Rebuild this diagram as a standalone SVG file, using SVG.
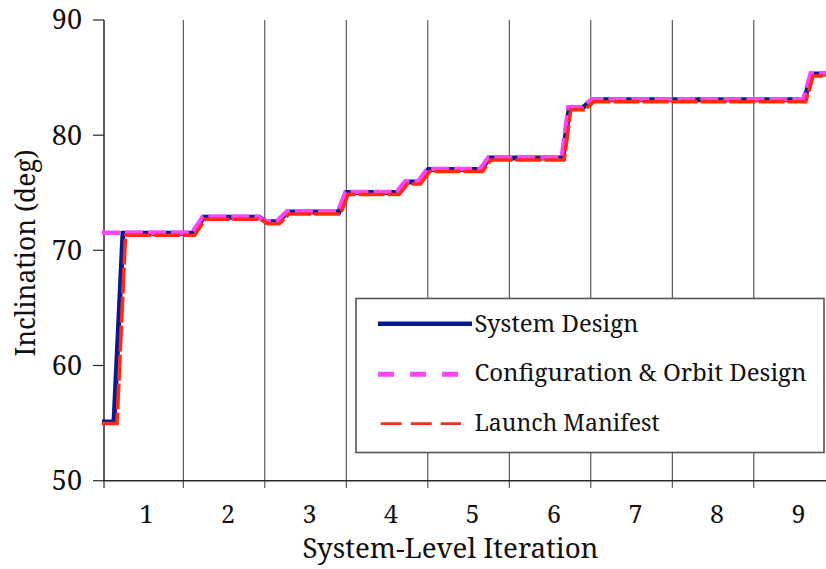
<svg xmlns="http://www.w3.org/2000/svg" width="826" height="569" viewBox="0 0 826 569">
<style>
  .grid{stroke:#3a3a3a;stroke-width:1;fill:none}
  .axis{stroke:#2a2a2a;stroke-width:1.5;fill:none}
  .tick{stroke:#2a2a2a;stroke-width:1.2}
  .sys{stroke:#0a1a8c;stroke-width:5;fill:none;stroke-linejoin:miter}
  .cfg{stroke:#ff44ff;stroke-width:4.5;fill:none;stroke-dasharray:18 5}
  .lm{stroke:#ff2a10;stroke-width:3.6;fill:none;stroke-dasharray:26 3}
</style>
<rect width="826" height="569" fill="#ffffff"/>
<g id="gridlines">
  <line class="grid" x1="183.3" y1="20" x2="183.3" y2="488"/>
  <line class="grid" x1="264.8" y1="20" x2="264.8" y2="488"/>
  <line class="grid" x1="346.3" y1="20" x2="346.3" y2="488"/>
  <line class="grid" x1="427.8" y1="20" x2="427.8" y2="488"/>
  <line class="grid" x1="509.3" y1="20" x2="509.3" y2="488"/>
  <line class="grid" x1="590.8" y1="20" x2="590.8" y2="488"/>
  <line class="grid" x1="672.3" y1="20" x2="672.3" y2="488"/>
  <line class="grid" x1="753.8" y1="20" x2="753.8" y2="488"/>
</g>
<g id="axes">
  <line class="axis" x1="104" y1="20" x2="104" y2="481"/>
  <line class="axis" x1="103" y1="480.7" x2="826" y2="480.7"/>
  <line class="tick" x1="93" y1="20" x2="104" y2="20"/>
  <line class="tick" x1="93" y1="135.2" x2="104" y2="135.2"/>
  <line class="tick" x1="93" y1="250.3" x2="104" y2="250.3"/>
  <line class="tick" x1="93" y1="365.5" x2="104" y2="365.5"/>
  <line class="tick" x1="93" y1="480.7" x2="104" y2="480.7"/>
  <line class="tick" x1="104" y1="480.7" x2="104" y2="488"/>
  <g font-family="Noto Serif, Liberation Serif, serif" font-size="27" fill="#111" text-anchor="end">
    <text x="82" y="29.3" font-family="Noto Serif, Liberation Serif, serif">90</text>
    <text x="82" y="144.5" font-family="Noto Serif, Liberation Serif, serif">80</text>
    <text x="82" y="259.6" font-family="Noto Serif, Liberation Serif, serif">70</text>
    <text x="82" y="374.8" font-family="Noto Serif, Liberation Serif, serif">60</text>
    <text x="82" y="490" font-family="Noto Serif, Liberation Serif, serif">50</text>
  </g>
  <g font-family="Noto Serif, Liberation Serif, serif" font-size="25" fill="#111" text-anchor="middle">
    <text x="146.5" y="522.5" font-family="Noto Serif, Liberation Serif, serif">1</text>
    <text x="228" y="522.5" font-family="Noto Serif, Liberation Serif, serif">2</text>
    <text x="309.5" y="522.5" font-family="Noto Serif, Liberation Serif, serif">3</text>
    <text x="391" y="522.5" font-family="Noto Serif, Liberation Serif, serif">4</text>
    <text x="472.5" y="522.5" font-family="Noto Serif, Liberation Serif, serif">5</text>
    <text x="554" y="522.5" font-family="Noto Serif, Liberation Serif, serif">6</text>
    <text x="635.5" y="522.5" font-family="Noto Serif, Liberation Serif, serif">7</text>
    <text x="717" y="522.5" font-family="Noto Serif, Liberation Serif, serif">8</text>
    <text x="798.5" y="522.5" font-family="Noto Serif, Liberation Serif, serif">9</text>
  </g>
  <text font-family="Noto Serif, Liberation Serif, serif" font-size="27" fill="#111" x="450.5" y="558" text-anchor="middle" textLength="296" lengthAdjust="spacingAndGlyphs">System-Level Iteration</text>
  <text font-family="Noto Serif, Liberation Serif, serif" font-size="28" fill="#111" transform="translate(35,253) rotate(-90)" x="0" y="0" text-anchor="middle" textLength="207" lengthAdjust="spacingAndGlyphs">Inclination (deg)</text>
</g>
<g id="series">
  <polyline id="system-design" class="sys" points="102,422 114,422 123,233.3 193,233.3 203.7,217.2 259.3,217.2 266,221.8 277.7,221.8 287.7,212 339,212 346.5,192.5 397.7,192.5 406,182 419,182 428.3,169.5 481,169.5 489.3,158 562.7,158 569.3,107.8 582.7,107.8 592.7,99.7 804.3,99.7 811.7,74 830,74"/>
  <polyline id="configuration-orbit" class="cfg" points="102,232.8 192,232.8 202.7,216.7 258.3,216.7 265,221.3 276.7,221.3 286.7,211.5 338,211.5 345.5,192 396.7,192 405,181.5 418,181.5 427.3,169 480,169 488.3,157.5 561.7,157.5 568.3,107.3 581.7,107.3 591.7,99.2 803.3,99.2 810.7,73.5 830,73.5"/>
  <polyline id="launch-manifest" class="lm" points="102,423.5 117,423.5 125.5,235.3 194.5,235.3 205.2,219.2 260.8,219.2 267.5,223.8 279.2,223.8 289.2,214 340.5,214 348,194.5 399.2,194.5 407.5,184 420.5,184 429.8,171.5 482.5,171.5 490.8,160 564.2,160 570.8,109.8 584.2,109.8 594.2,101.7 805.8,101.7 813.2,76 830,76"/>
</g>
<g id="legend">
  <rect x="356" y="298.5" width="468" height="154" fill="#ffffff" stroke="#555" stroke-width="1.6"/>
  <line x1="378" y1="323.7" x2="472" y2="323.7" stroke="#0a1a8c" stroke-width="4.5"/>
  <line x1="378" y1="374.3" x2="458.5" y2="374.3" stroke="#ff44ff" stroke-width="5" stroke-dasharray="16 16"/>
  <line x1="380.7" y1="423.7" x2="461" y2="423.7" stroke="#ee3418" stroke-width="2.7" stroke-dasharray="21 9"/>
  <text font-family="Noto Serif, Liberation Serif, serif" font-size="24" fill="#111" x="474.5" y="331.7" textLength="164" lengthAdjust="spacingAndGlyphs">System Design</text>
  <text font-family="Noto Serif, Liberation Serif, serif" font-size="24" fill="#111" x="474.5" y="381.2" textLength="332" lengthAdjust="spacingAndGlyphs">Configuration &amp; Orbit Design</text>
  <text font-family="Noto Serif, Liberation Serif, serif" font-size="24" fill="#111" x="474.5" y="430.5" textLength="185" lengthAdjust="spacingAndGlyphs">Launch Manifest</text>
</g>
</svg>
